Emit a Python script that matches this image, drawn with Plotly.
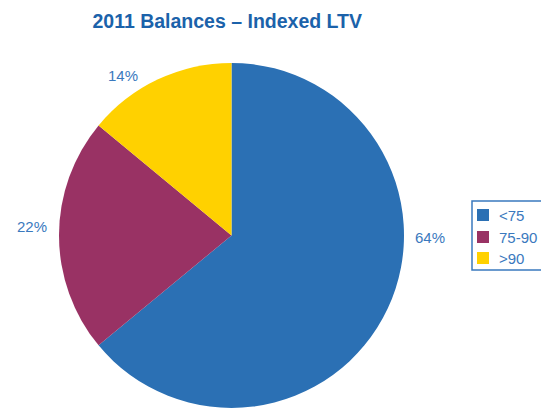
import plotly.graph_objects as go

# Share of 2011 balances by indexed loan-to-value band
bands = ["<75", "75-90", ">90"]
shares = [64, 22, 14]
colors = ["#2B70B4", "#993264", "#FFD100"]

W, H = 541, 408
FONT = "Liberation Sans, Arial, sans-serif"
TEXT_BLUE = "#3A79BE"

# Where each percentage label sits (pixels from top-left)
label_px = [(430, 237), (32, 226), (123, 75)]


def px(x, y):
    """Pixel position from the top-left corner -> paper coordinates."""
    return x / W, 1 - y / H


total = sum(shares)

fig = go.Figure(
    go.Pie(
        labels=bands,
        values=shares,
        sort=False,
        direction="clockwise",
        rotation=0,
        marker=dict(colors=colors, line=dict(width=0)),
        textinfo="none",
        hoverinfo="label+percent",
        showlegend=False,
        domain=dict(x=[59 / W, 404 / W], y=[0.0, 0.846]),
    )
)

# Percentage labels beside each slice
for v, (lx, ly) in zip(shares, label_px):
    x, y = px(lx, ly)
    fig.add_annotation(
        x=x, y=y, xref="paper", yref="paper",
        xanchor="center", yanchor="middle",
        text=f"{round(100 * v / total)}%",
        showarrow=False,
        font=dict(family=FONT, size=15, color=TEXT_BLUE),
    )

# Boxed legend on the right
bx0, by0 = px(472, 201)
bx1, by1 = px(550, 270)
fig.add_shape(
    type="rect", xref="paper", yref="paper",
    x0=bx0, y0=by0, x1=bx1, y1=by1,
    line=dict(color=TEXT_BLUE, width=1.5), fillcolor="rgba(0,0,0,0)",
)
row_y = [215, 237, 258]
for name, col, ry in zip(bands, colors, row_y):
    sx0, sy0 = px(477, ry - 6)
    sx1, sy1 = px(489, ry + 6)
    fig.add_shape(
        type="rect", xref="paper", yref="paper",
        x0=sx0, y0=sy0, x1=sx1, y1=sy1,
        line=dict(width=0), fillcolor=col,
    )
    tx, ty = px(497, ry)
    fig.add_annotation(
        x=tx, y=ty, xref="paper", yref="paper",
        xanchor="left", yanchor="middle",
        text=name, showarrow=False,
        font=dict(family=FONT, size=15, color=TEXT_BLUE),
    )

fig.update_layout(
    width=W,
    height=H,
    margin=dict(l=0, r=0, t=0, b=0, autoexpand=False),
    paper_bgcolor="white",
    plot_bgcolor="white",
    showlegend=False,
    title=dict(
        text="<b>2011 Balances – Indexed LTV</b>",
        x=0.42, xanchor="center",
        y=0.948, yanchor="middle",
        font=dict(family=FONT, size=19.5, color="#1B62AA"),
    ),
)

fig.write_html("out.html")
